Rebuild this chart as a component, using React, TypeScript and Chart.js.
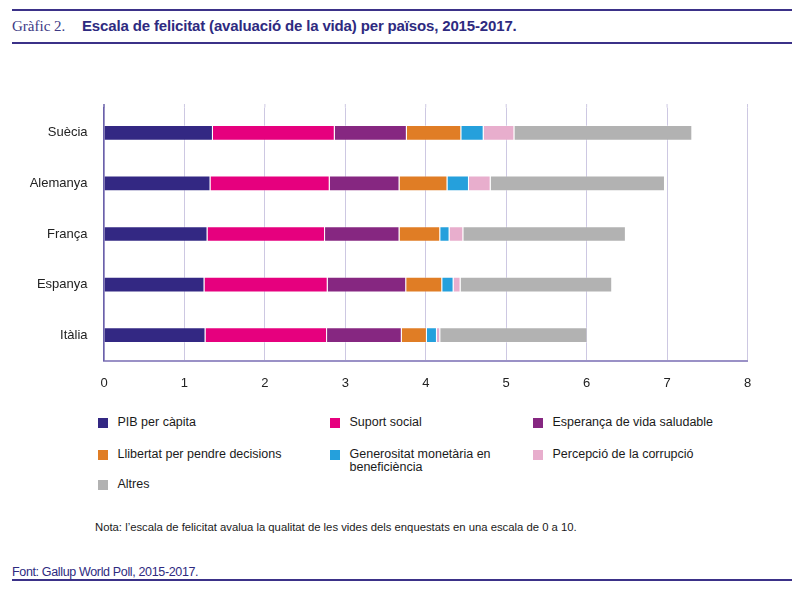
import React, { useEffect, useRef } from "react";
import { Chart, registerables } from "chart.js";

Chart.register(...registerables);

const categories = ["Suècia", "Alemanya", "França", "Espanya", "Itàlia"];
const seriesNames = [
  "PIB per càpita",
  "Suport social",
  "Esperança de vida saludable",
  "Llibertat per pendre decisions",
  "Generositat monetària en beneficiència",
  "Percepció de la corrupció",
  "Altres",
];
const seriesColors = ["#332883", "#e6007e", "#862781", "#e07d25", "#25a0dc", "#e8aecd", "#b2b2b2"];

const pib = [1.354, 1.324, 1.287, 1.249, 1.262];
const suport = [1.515, 1.482, 1.461, 1.532, 1.511];
const esperanca = [0.896, 0.868, 0.926, 0.976, 0.929];
const llibertat = [0.677, 0.596, 0.506, 0.448, 0.312];
const generositat = [0.278, 0.267, 0.116, 0.141, 0.125];
const corrupcio = [0.382, 0.27, 0.171, 0.087, 0.041];
const altres = [2.212, 2.167, 2.021, 1.885, 1.831];

const xTicks = [0, 1, 2, 3, 4, 5, 6, 7, 8];

const FONT = "'Liberation Sans', Arial, sans-serif";
const INK = "#2e2a80";

const gridExtend = {
  id: "gridExtend",
  beforeDatasetsDraw(chart: any) {
    const { ctx, chartArea, scales } = chart;
    const x = scales.x;
    ctx.save();
    x.ticks.forEach((t: any) => {
      const px = x.getPixelForValue(t.value);
      ctx.beginPath();
      if (t.value === 0) {
        ctx.strokeStyle = "#6a60aa";
        ctx.lineWidth = 1.5;
      } else {
        ctx.strokeStyle = "#cdc8e2";
        ctx.lineWidth = 1;
      }
      ctx.moveTo(px, chartArea.top - 3.5);
      ctx.lineTo(px, chartArea.top);
      ctx.stroke();
    });
    ctx.restore();
  },
};

function BarChart() {
  const ref = useRef<HTMLCanvasElement>(null);
  useEffect(() => {
    if (!ref.current) return;
    const values = [pib, suport, esperanca, llibertat, generositat, corrupcio, altres];
    const chart = new Chart(ref.current, {
      type: "bar",
      data: {
        labels: categories,
        datasets: values.map((v, i) => ({
          label: seriesNames[i],
          data: v,
          backgroundColor: seriesColors[i],
          borderColor: "rgba(255,255,255,0.3)",
          borderWidth: 1,
          borderSkipped: "start",
          barPercentage: 0.31,
          categoryPercentage: 1,
        })),
      },
      options: {
        indexAxis: "y",
        animation: false,
        responsive: false,
        layout: { padding: { top: 107.5, right: 52.5, left: 0, bottom: 0 } },
        plugins: { legend: { display: false }, tooltip: { enabled: false } },
        scales: {
          x: {
            stacked: true,
            min: 0,
            max: 8,
            afterBuildTicks: (s: any) => {
              s.ticks = xTicks.map((v) => ({ value: v }));
            },
            afterFit: (s: any) => {
              s.height = 39.5;
            },
            grid: { color: "#cdc8e2", lineWidth: 1, drawTicks: false },
            border: { display: true, color: "#9a91c6", width: 2 },
            ticks: { padding: 15, color: "#222", font: { family: FONT, size: 13 } },
          },
          y: {
            stacked: true,
            afterFit: (s: any) => {
              s.width = 104;
            },
            grid: { display: false, drawTicks: false },
            border: { display: true, color: "#6a60aa", width: 1.5 },
            ticks: { padding: 16.5, color: "#222", font: { family: FONT, size: 13 } },
          },
        },
      },
      plugins: [gridExtend],
    });
    return () => chart.destroy();
  }, []);
  return (
    <canvas
      ref={ref}
      width={800}
      height={400}
      style={{ position: "absolute", left: 0, top: 0, width: 800, height: 400 }}
    />
  );
}

const colLeft = [98, 330, 533];
const colWidth = [200, 160, 230];
const rowCenter = [423, 454.5, 485];

export default function App() {
  return (
    <div
      style={{
        position: "absolute",
        left: 0,
        top: 0,
        width: 800,
        height: 591,
        background: "#fff",
        fontFamily: FONT,
        overflow: "hidden",
      }}
    >
      <div style={{ position: "absolute", left: 12, top: 8.5, width: 780, height: 2, background: "#3b3188" }} />
      <div
        style={{
          position: "absolute",
          left: 12,
          top: 16,
          lineHeight: "20px",
          fontFamily: "'Liberation Serif', 'DejaVu Serif', serif",
          fontSize: 15,
          color: "#3d3a85",
          whiteSpace: "nowrap",
        }}
      >
        Gràfic 2.
      </div>
      <div
        style={{
          position: "absolute",
          left: 82,
          top: 16,
          lineHeight: "20px",
          fontSize: 15,
          fontWeight: "bold",
          color: INK,
          whiteSpace: "nowrap",
          letterSpacing: "-0.15px",
        }}
      >
        Escala de felicitat (avaluació de la vida) per països, 2015-2017.
      </div>
      <div style={{ position: "absolute", left: 12, top: 41.5, width: 780, height: 2, background: "#3b3188" }} />

      <BarChart />

      {seriesNames.map((name, i) => {
        const col = i % 3;
        const row = Math.floor(i / 3);
        const cy = rowCenter[row];
        return (
          <React.Fragment key={name}>
            <div
              style={{
                position: "absolute",
                left: colLeft[col],
                top: cy - 5,
                width: 10,
                height: 10,
                background: seriesColors[i],
              }}
            />
            <div
              style={{
                position: "absolute",
                left: colLeft[col] + 19.5,
                top: cy - 6.75,
                width: colWidth[col],
                lineHeight: "13.5px",
                fontSize: 12.5,
                color: "#1a1a1a",
              }}
            >
              {name}
            </div>
          </React.Fragment>
        );
      })}

      <div
        style={{
          position: "absolute",
          left: 95,
          top: 520,
          lineHeight: "14px",
          fontSize: 11.3,
          color: "#1a1a1a",
          whiteSpace: "nowrap",
        }}
      >
        Nota: l’escala de felicitat avalua la qualitat de les vides dels enquestats en una escala de 0 a 10.
      </div>

      <div
        style={{
          position: "absolute",
          left: 12,
          top: 564.5,
          lineHeight: "14px",
          fontSize: 12.5,
          color: INK,
          whiteSpace: "nowrap",
          letterSpacing: "-0.35px",
        }}
      >
        Font: Gallup World Poll, 2015-2017.
      </div>
      <div style={{ position: "absolute", left: 12, top: 579, width: 780, height: 2, background: "#3b3188" }} />
    </div>
  );
}
